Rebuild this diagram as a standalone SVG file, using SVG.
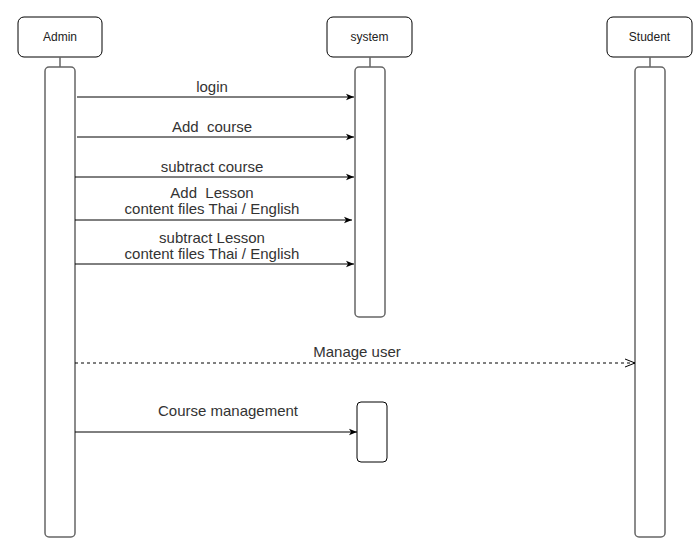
<svg xmlns="http://www.w3.org/2000/svg" width="696" height="542" viewBox="0 0 696 542">
<style>
.hd{fill:#fff;stroke:#000;stroke-width:1}
.act{fill:#fff;stroke:#666;stroke-width:1.5}
.ll{stroke:#666;stroke-width:1.5}
.msg{stroke:#000;stroke-width:1;fill:none}
.dash{stroke-dasharray:3,3}
.t{font-family:"Liberation Sans",Arial,sans-serif;fill:#333;text-anchor:middle}
.h{font-size:12px;fill:#222}
.l{font-size:15px}
</style>
<defs>
<marker id="fa" viewBox="0 0 10 10" refX="10" refY="5" markerWidth="8" markerHeight="8" markerUnits="userSpaceOnUse" orient="auto">
<path d="M0,1 L10,5 L0,9 L2.5,5 Z" fill="#000"/>
</marker>
<marker id="oa" viewBox="0 0 10 10" refX="10" refY="5" markerWidth="10" markerHeight="10" markerUnits="userSpaceOnUse" orient="auto">
<path d="M0,1 L10,5 L0,9" fill="none" stroke="#000" stroke-width="1"/>
</marker>
</defs>
<g id="admin">
<rect class="hd" x="18" y="17" width="84" height="40" rx="6"/>
<text class="t h" x="60" y="41">Admin</text>
<line class="ll" x1="60" y1="57" x2="60" y2="67"/>
<rect class="act" x="45" y="67" width="30" height="470" rx="4"/>
</g>
<g id="system">
<rect class="hd" x="327" y="17" width="85" height="40" rx="6"/>
<text class="t h" x="369.5" y="41">system</text>
<line class="ll" x1="370" y1="57" x2="370" y2="67"/>
<rect class="act" x="355" y="67" width="30" height="250" rx="4"/>
</g>
<g id="student">
<rect class="hd" x="607" y="17" width="85" height="40" rx="6"/>
<text class="t h" x="649.5" y="41">Student</text>
<line class="ll" x1="650" y1="57" x2="650" y2="67"/>
<rect class="act" x="635" y="67" width="30" height="470" rx="4"/>
</g>
<g id="system-activation2">
<rect x="357" y="402" width="30" height="60" rx="4" fill="#fff" stroke="#000" stroke-width="1"/>
</g>
<g id="connectors">
<line class="msg" x1="77" y1="97" x2="354" y2="97" marker-end="url(#fa)"/>
<text class="t l" x="212" y="92">login</text>
<line class="msg" x1="77" y1="137" x2="354" y2="137" marker-end="url(#fa)"/>
<text class="t l" x="212" y="132" xml:space="preserve">Add  course</text>
<line class="msg" x1="75" y1="177" x2="354" y2="177" marker-end="url(#fa)"/>
<text class="t l" x="212" y="172">subtract course</text>
<line class="msg" x1="75" y1="220" x2="352" y2="220" marker-end="url(#fa)"/>
<text class="t l" x="212" y="198" xml:space="preserve">Add  Lesson</text>
<text class="t l" x="212" y="214">content files Thai / English</text>
<line class="msg" x1="75" y1="264" x2="354" y2="264" marker-end="url(#fa)"/>
<text class="t l" x="212" y="243">subtract Lesson</text>
<text class="t l" x="212" y="259">content files Thai / English</text>
<line class="msg dash" x1="75" y1="363" x2="635" y2="363" marker-end="url(#oa)"/>
<text class="t l" x="357" y="357">Manage user</text>
<line class="msg" x1="75" y1="432" x2="357" y2="432" marker-end="url(#fa)"/>
<text class="t l" x="228" y="416">Course management</text>
</g>
</svg>
